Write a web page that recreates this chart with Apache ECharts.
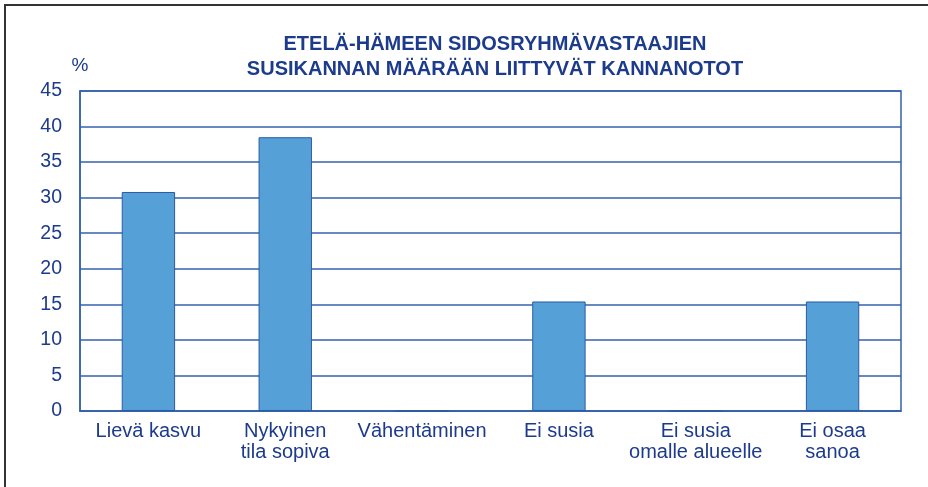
<!DOCTYPE html>
<html>
<head>
<meta charset="utf-8">
<script src="https://cdn.jsdelivr.net/npm/echarts@6/dist/echarts.min.js"></script>
<style>
  html, body { margin: 0; padding: 0; background: #fff; }
  #chart { width: 928px; height: 487px; }
</style>
</head>
<body>
<div id="chart"></div>
<script>
const categories = ['Lievä kasvu', 'Nykyinen\ntila sopiva', 'Vähentäminen', 'Ei susia', 'Ei susia\nomalle alueelle', 'Ei osaa\nsanoa'];
const values = [30.8, 38.5, 0, 15.4, 0, 15.4];
const titleLines = ['ETELÄ-HÄMEEN SIDOSRYHMÄVASTAAJIEN', 'SUSIKANNAN MÄÄRÄÄN LIITTYVÄT KANNANOTOT'];

const textBlue = '#1c3b8c';
const lineBlue = '#3461ab';
const font = '"Liberation Sans", Arial, sans-serif';

const chart = echarts.init(document.getElementById('chart'), null, { renderer: 'canvas' });

chart.setOption({
  animation: false,
  backgroundColor: '#fff',
  title: {
    text: titleLines.join('\n'),
    left: 490,
    top: 27,
    textAlign: 'center',
    textStyle: { color: textBlue, fontFamily: font, fontSize: 20, fontWeight: 'bold', lineHeight: 25 }
  },
  graphic: [{
    type: 'rect',
    shape: { x: 5, y: 5, width: 1000, height: 1000 },
    style: { fill: 'none', stroke: '#333', lineWidth: 2 },
    silent: true
  }],
  grid: {
    left: 80, right: 27, top: 91, bottom: 76,
    show: true, borderColor: lineBlue, borderWidth: 1.5
  },
  xAxis: {
    type: 'category',
    data: categories,
    axisTick: { show: false },
    axisLine: { lineStyle: { color: lineBlue, width: 1.5 } },
    axisLabel: { interval: 0, color: textBlue, fontFamily: font, fontSize: 20, lineHeight: 21, margin: 10 }
  },
  yAxis: {
    type: 'value',
    min: 0, max: 45, interval: 5,
    name: '%',
    nameLocation: 'end',
    nameGap: 16,
    nameTextStyle: { color: textBlue, fontFamily: font, fontSize: 19, align: 'center' },
    axisLine: { show: true, lineStyle: { color: lineBlue, width: 1.5 } },
    axisTick: { show: false },
    splitLine: { lineStyle: { color: lineBlue, width: 1.5 } },
    axisLabel: { color: textBlue, fontFamily: font, fontSize: 19.5, margin: 18 }
  },
  series: [{
    type: 'bar',
    data: values,
    barWidth: '39%',
    itemStyle: { color: '#55a1d7', borderColor: '#2a5aa5', borderWidth: 1 }
  }]
});
</script>
</body>
</html>
